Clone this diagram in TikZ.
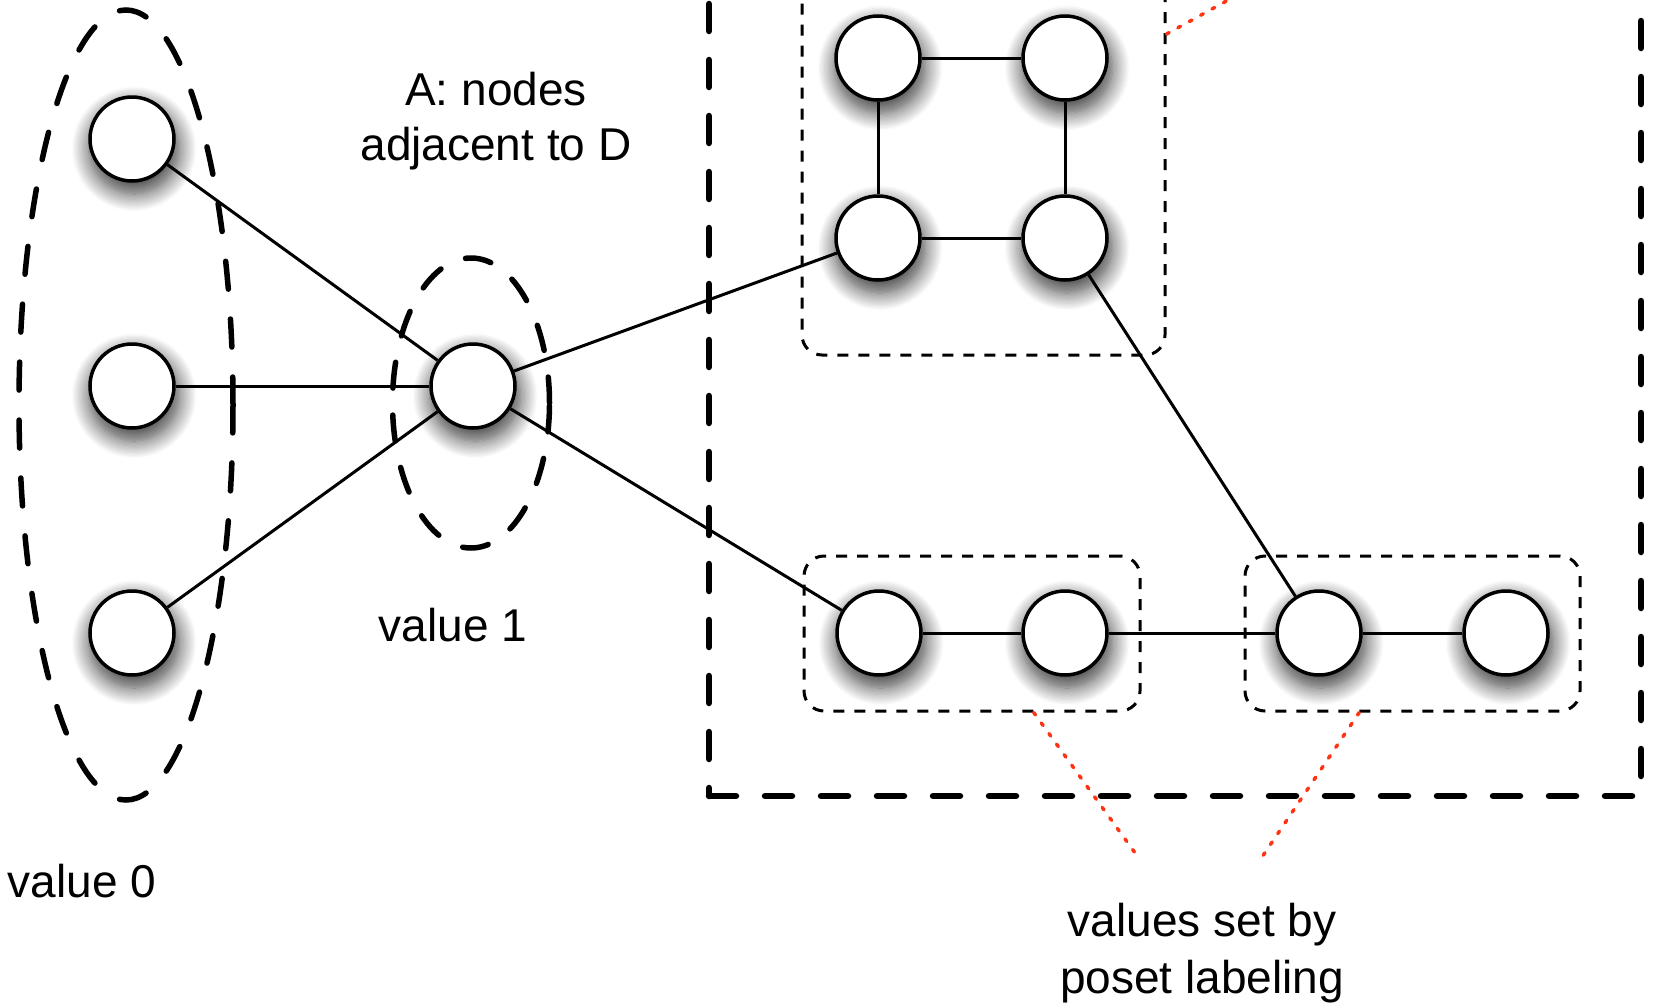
\documentclass[tikz,border=0pt]{standalone}
\usepackage{fontspec}
\setmainfont{Liberation Sans}
\usetikzlibrary{shapes.geometric,shadows.blur}
\definecolor{notered}{HTML}{FF3311}

\begin{document}
\begin{tikzpicture}[
  x=1pt, y=-1pt,
  font=\fontsize{46}{55}\selectfont,
  vert/.style={circle, draw, line width=3.5pt, fill=white, minimum size=84pt, inner sep=0pt,
    blur shadow={shadow xshift=2pt, shadow yshift=-9pt, shadow blur radius=16pt, shadow blur steps=14, shadow scale=1.08, shadow opacity=75}},
  edge/.style={line width=3pt},
  grp/.style={ellipse, draw, line width=5.5pt, dash pattern=on 28pt off 30pt, line cap=round, inner sep=0pt},
  frm/.style={draw, line width=6.5pt, dash pattern=on 27pt off 29pt, line cap=round, inner sep=0pt},
  subgrp/.style={draw, rounded corners=20pt, line width=3pt, dash pattern=on 11pt off 10pt, inner sep=0pt},
  note/.style={notered, line width=3.5pt, line cap=round, dash pattern=on 3pt off 10pt}
]
\useasboundingbox (0,0) rectangle (1655,1007);

% outer frame and groups
\node[frm, minimum width=932pt, minimum height=836pt] (frame) at (1175,378) {};
\node[subgrp, minimum width=363pt, minimum height=395pt] (sqbox) at (983.5,157.5) {};
\node[subgrp, minimum width=336pt, minimum height=155pt] (pbox1) at (972,633.5) {};
\node[subgrp, minimum width=335pt, minimum height=155pt] (pbox2) at (1412.5,633.5) {};

% vertices
\node[vert] (l1) at (132,139) {};
\node[vert] (l2) at (132,386) {};
\node[vert] (l3) at (132,633) {};
\node[vert] (hub) at (473,386) {};
\node[vert] (s1) at (878,58) {};
\node[vert] (s2) at (1065,58) {};
\node[vert] (s3) at (878,238) {};
\node[vert] (s4) at (1065,238) {};
\node[vert] (p1) at (879,633) {};
\node[vert] (p2) at (1065,633) {};
\node[vert] (p3) at (1319,633) {};
\node[vert] (p4) at (1506,633) {};

% edges
\draw[edge] (l1) -- (hub);
\draw[edge] (l2) -- (hub);
\draw[edge] (l3) -- (hub);
\draw[edge] (hub) -- (s3);
\draw[edge] (hub) -- (p1);
\draw[edge] (s1) -- (s2);
\draw[edge] (s1) -- (s3);
\draw[edge] (s2) -- (s4);
\draw[edge] (s3) -- (s4);
\draw[edge] (s4) -- (p3);
\draw[edge] (p1) -- (p2);
\draw[edge] (p2) -- (p3);
\draw[edge] (p3) -- (p4);

% value sets
\node[grp, minimum width=214pt, minimum height=790pt] (zeroset) at (126,405) {};
\node[grp, minimum width=157pt, minimum height=290pt, dash pattern=on 26pt off 27pt] (oneset) at (471,403) {};

% labels
\node[align=center] (lblA) at (496,121) {A: nodes\\adjacent to D};
\node[anchor=base] (lbl1) at (453,641) {value 1};
\node[anchor=base] (lbl0) at (82,897) {value 0};
\node[align=center, font=\fontsize{46}{57}\selectfont] (lblP) at (1202,953) {values set by\\poset labeling};

% pointers
\coordinate (tipT) at (1250,-12);
\coordinate (tipL) at (1138,857);
\coordinate (tipR) at (1258,863);
\draw[note] (sqbox.34) -- (tipT);
\draw[note] (pbox1.-52) -- (tipL);
\draw[note] (pbox2.-124) -- (tipR);
\end{tikzpicture}
\end{document}
